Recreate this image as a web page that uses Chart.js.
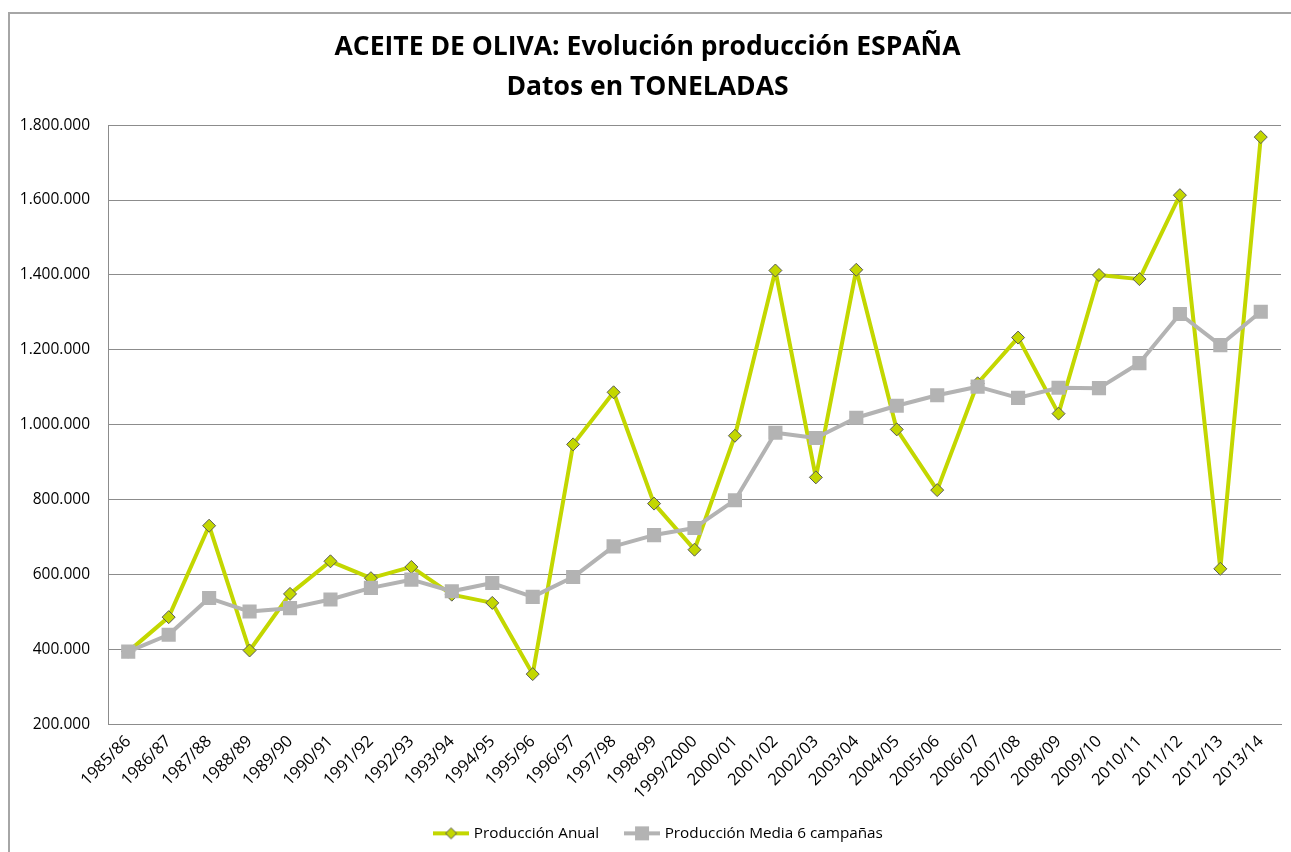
<!DOCTYPE html>
<html>
<head>
<meta charset="utf-8">
<script src="https://cdn.jsdelivr.net/npm/chart.js@4"></script>
<style>
  html, body { margin: 0; padding: 0; background: #fff; overflow: hidden; }
  #wrap { width: 1291px; height: 852px; position: relative; }
</style>
</head>
<body>
<div id="wrap"><canvas id="grafico"></canvas></div>
<script>
// Campañas (eje X)
const campanas = ['1985/86', '1986/87', '1987/88', '1988/89', '1989/90', '1990/91', '1991/92', '1992/93',
    '1993/94', '1994/95', '1995/96', '1996/97', '1997/98', '1998/99', '1999/2000', '2000/01', '2001/02',
    '2002/03', '2003/04', '2004/05', '2005/06', '2006/07', '2007/08', '2008/09', '2009/10', '2010/11',
    '2011/12', '2012/13', '2013/14'];

// Producción anual (toneladas)
const produccionAnual = [395000, 487000, 731000, 398000, 549000, 636000, 591000, 621000,
    547000, 525000, 335000, 948000, 1087000, 790000, 667000, 971000, 1412000,
    860000, 1414000, 988000, 826000, 1111000, 1233000, 1030000, 1400000, 1389000,
    1613000, 616000, 1768000];

// Producción media de 6 campañas (toneladas)
const produccionMedia = [395000, 440000, 538000, 502000, 511000, 534000, 565000, 587000,
    556000, 578000, 541000, 594000, 676000, 706000, 725000, 799000, 979000,
    965000, 1019000, 1051000, 1079000, 1102000, 1072000, 1099000, 1098000, 1165000,
    1296000, 1213000, 1302000];

// Marcas del eje Y
const ejeYMin = 200000;
const ejeYMax = 1800000;
const ejeYPaso = 200000;

const verde = '#c3d700';
const gris = '#b3b3b3';

Chart.defaults.font.family = '"Open Sans", "Noto Sans", sans-serif';
Chart.defaults.color = '#000';

// Iconos de la leyenda: línea + marcador
function iconoLeyenda(color, forma) {
    const c = document.createElement('canvas');
    c.width = 36; c.height = 16;
    const ctx = c.getContext('2d');
    ctx.strokeStyle = color;
    ctx.lineWidth = 4;
    ctx.beginPath(); ctx.moveTo(0, 8); ctx.lineTo(36, 8); ctx.stroke();
    if (forma === 'rombo') {
        ctx.fillStyle = color;
        ctx.strokeStyle = '#595959';
        ctx.lineWidth = 1;
        ctx.beginPath();
        ctx.moveTo(18, 2.5); ctx.lineTo(23.5, 8); ctx.lineTo(18, 13.5); ctx.lineTo(12.5, 8); ctx.closePath();
        ctx.fill(); ctx.stroke();
    } else {
        ctx.fillStyle = color;
        ctx.fillRect(11, 1, 14, 14);
    }
    return c;
}
const iconoAnual = iconoLeyenda(verde, 'rombo');
const iconoMedia = iconoLeyenda(gris, 'cuadrado');

// Marco del gráfico y leyenda algo desplazada a la derecha
const marco = {
    id: 'marco',
    afterLayout(chart) {
        chart.legend.left += 12;
        chart.legend.right += 12;
    },
    beforeDraw(chart) {
        const ctx = chart.ctx;
        ctx.save();
        ctx.strokeStyle = '#a6a6a6';
        ctx.lineWidth = 2;
        ctx.beginPath();
        ctx.moveTo(9, chart.height);
        ctx.lineTo(9, 13);
        ctx.lineTo(chart.width, 13);
        ctx.stroke();
        ctx.restore();
    }
};

const formatoMiles = v => String(v).replace(/\B(?=(\d{3})+(?!\d))/g, '.');

new Chart(document.getElementById('grafico'), {
    type: 'line',
    data: {
        labels: campanas,
        datasets: [{
            label: 'Producción Anual',
            data: produccionAnual,
            borderColor: verde,
            backgroundColor: verde,
            borderWidth: 4,
            borderJoinStyle: 'round',
            pointStyle: 'rectRot',
            pointRadius: 6.5,
            pointHoverRadius: 6.5,
            pointBackgroundColor: verde,
            pointBorderColor: '#595959',
            pointBorderWidth: 1,
            tension: 0,
            order: 1
        }, {
            label: 'Producción Media 6 campañas',
            data: produccionMedia,
            borderColor: gris,
            backgroundColor: gris,
            borderWidth: 4,
            borderJoinStyle: 'round',
            pointStyle: 'rect',
            pointRadius: 10,
            pointHoverRadius: 10,
            pointBackgroundColor: gris,
            pointBorderWidth: 0,
            tension: 0,
            order: 0
        }]
    },
    options: {
        responsive: true,
        maintainAspectRatio: false,
        animation: false,
        layout: { padding: { left: 10, right: 6, top: 0, bottom: 1 } },
        plugins: {
            tooltip: { enabled: false },
            title: {
                display: true,
                text: ['ACEITE DE OLIVA: Evolución producción ESPAÑA', 'Datos en TONELADAS'],
                font: { size: 26.5, weight: 'bold', lineHeight: 1.53 },
                color: '#000',
                padding: { top: 27, bottom: 17 }
            },
            legend: {
                position: 'bottom',
                labels: {
                    usePointStyle: true,
                    pointStyleWidth: 30,
                    padding: 28,
                    font: { size: 15.3 },
                    generateLabels: () => [
                        { text: 'Producción Anual', pointStyle: iconoAnual, datasetIndex: 0, hidden: false, lineWidth: 0 },
                        { text: 'Producción Media 6 campañas', pointStyle: iconoMedia, datasetIndex: 1, hidden: false, lineWidth: 0 }
                    ]
                }
            }
        },
        scales: {
            x: {
                offset: true,
                grid: { display: false, drawTicks: false },
                border: { display: true, color: '#8c8c8c', width: 1 },
                ticks: { autoSkip: false, minRotation: 45, maxRotation: 45, padding: 7, font: { size: 16.5 } },
                afterFit: s => { s.height = 73; }
            },
            y: {
                min: ejeYMin,
                max: ejeYMax,
                grid: { color: '#8c8c8c', drawTicks: false },
                border: { display: true, color: '#8c8c8c', width: 1 },
                ticks: { stepSize: ejeYPaso, padding: 18, font: { size: 15.5 }, callback: v => formatoMiles(v) },
                afterFit: s => { s.width = 98; }
            }
        }
    },
    plugins: [marco]
});
</script>
</body>
</html>
